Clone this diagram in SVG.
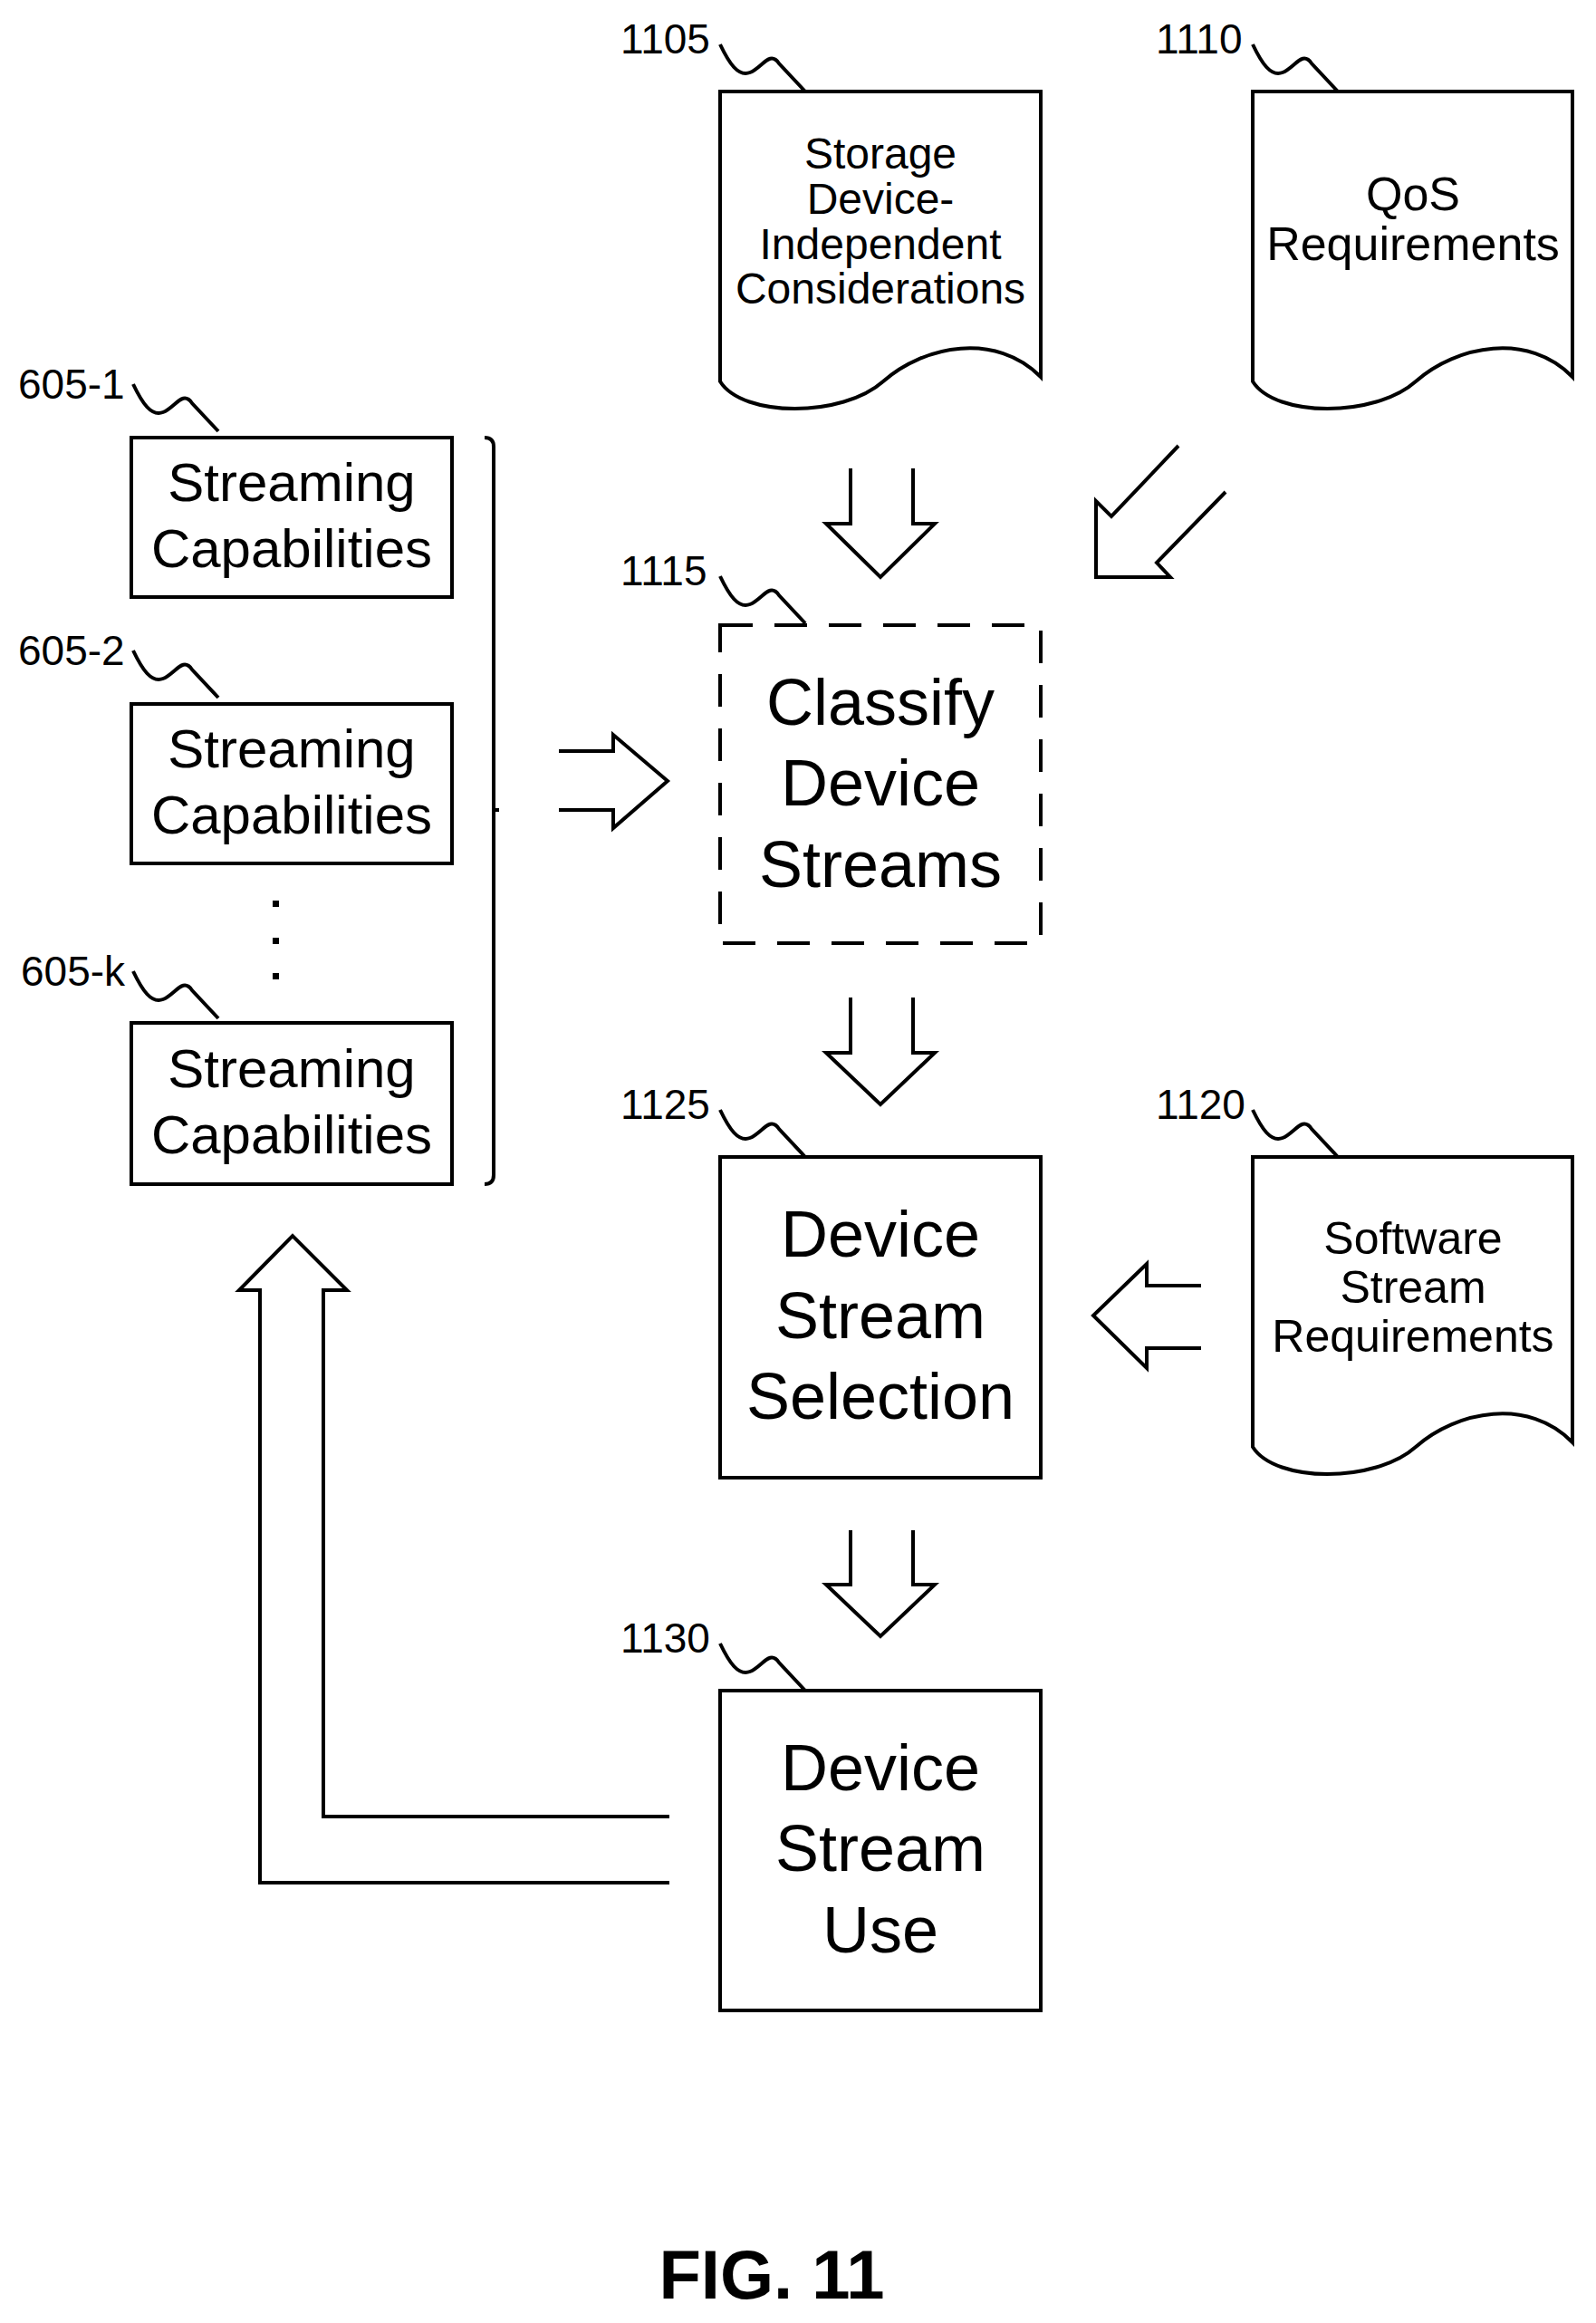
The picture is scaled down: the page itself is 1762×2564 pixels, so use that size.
<svg xmlns="http://www.w3.org/2000/svg" width="1762" height="2564" viewBox="0 0 1762 2564">
<style>
.s{fill:none;stroke:#000;stroke-width:4}
.b{fill:#fff;stroke:#000;stroke-width:4}
.d{fill:#fff;stroke:#000;stroke-width:4;stroke-dasharray:36 24}
.t{font-family:"Liberation Sans",Arial,sans-serif;fill:#000;text-anchor:middle}
.l{font-family:"Liberation Sans",Arial,sans-serif;fill:#000;font-size:46px}
</style>
<defs>
<path id="lead" class="s" d="M0,0 c10,21 20,36 33,31 s22,-25 32,-10 l29,31"/>
</defs>
<rect width="1762" height="2564" fill="#fff"/>
<g id="n1105">
<path class="b" d="M795,101 H1149 V416 C1100,366 1020,381 975,421 C930,461 820,461 795,421 Z"/>
<text class="t" font-size="48"><tspan x="972" y="186">Storage</tspan><tspan x="972" y="236">Device-</tspan><tspan x="972" y="286">Independent</tspan><tspan x="972" y="335">Considerations</tspan></text>
<text class="l" x="685" y="59">1105</text><use href="#lead" x="795" y="49"/>
</g>
<g id="n1110">
<path class="b" d="M1383,101 H1736 V416 C1688,366 1608,381 1563,421 C1518,461 1408,461 1383,421 Z"/>
<text class="t" font-size="52"><tspan x="1560" y="232">QoS</tspan><tspan x="1560" y="287">Requirements</tspan></text>
<text class="l" x="1276" y="59">1110</text><use href="#lead" x="1383" y="49"/>
</g>
<g id="n605-1">
<rect class="b" x="145" y="483" width="354" height="176"/>
<text class="t" font-size="60"><tspan x="322" y="553">Streaming</tspan><tspan x="322" y="626">Capabilities</tspan></text>
<text class="l" x="20" y="440">605-1</text><use href="#lead" x="147" y="424"/>
</g>
<g id="n605-2">
<rect class="b" x="145" y="777" width="354" height="176"/>
<text class="t" font-size="60"><tspan x="322" y="847">Streaming</tspan><tspan x="322" y="920">Capabilities</tspan></text>
<text class="l" x="20" y="734">605-2</text><use href="#lead" x="147" y="718"/>
</g>
<g id="dots"><rect x="301" y="994" width="7" height="7"/><rect x="301" y="1035" width="7" height="7"/><rect x="301" y="1074" width="7" height="7"/></g>
<g id="n605-k">
<rect class="b" x="145" y="1129" width="354" height="178"/>
<text class="t" font-size="60"><tspan x="322" y="1200">Streaming</tspan><tspan x="322" y="1273">Capabilities</tspan></text>
<text class="l" x="23" y="1088">605-k</text><use href="#lead" x="147" y="1072"/>
</g>
<g id="n1115">
<rect class="d" x="795" y="690" width="354" height="351"/>
<text class="t" font-size="72"><tspan x="972" y="800">Classify</tspan><tspan x="972" y="889">Device</tspan><tspan x="972" y="979">Streams</tspan></text>
<text class="l" x="685" y="646">1115</text><use href="#lead" x="795" y="636"/>
</g>
<g id="n1125">
<rect class="b" x="795" y="1277" width="354" height="354"/>
<text class="t" font-size="72"><tspan x="972" y="1387">Device</tspan><tspan x="972" y="1477">Stream</tspan><tspan x="972" y="1566">Selection</tspan></text>
<text class="l" x="685" y="1235">1125</text><use href="#lead" x="795" y="1225"/>
</g>
<g id="n1120">
<path class="b" d="M1383,1277 H1736 V1592 C1688,1542 1608,1557 1563,1597 C1518,1637 1408,1637 1383,1597 Z"/>
<text class="t" font-size="50"><tspan x="1560" y="1384">Software</tspan><tspan x="1560" y="1438">Stream</tspan><tspan x="1560" y="1492">Requirements</tspan></text>
<text class="l" x="1276" y="1235">1120</text><use href="#lead" x="1383" y="1225"/>
</g>
<g id="n1130">
<rect class="b" x="795" y="1866" width="354" height="353"/>
<text class="t" font-size="72"><tspan x="972" y="1976">Device</tspan><tspan x="972" y="2065">Stream</tspan><tspan x="972" y="2155">Use</tspan></text>
<text class="l" x="685" y="1824">1130</text><use href="#lead" x="795" y="1814"/>
</g>
<g id="connectors">
<path class="s" d="M535,483 Q545,483 545,493 V1297 Q545,1307 535,1307 M545,894 H551"/>
<path class="s" d="M939,517 V578 H912 L972,637 L1032,578 H1008 V517"/>
<path class="s" d="M1301,492 L1227,570 L1210,553 V637 H1292 L1277,621 L1353,543"/>
<path class="s" d="M617,829 H677 V811 L737,862 L677,914 V894 H617"/>
<path class="s" d="M939,1101 V1162 H912 L972,1219 L1032,1162 H1008 V1101"/>
<path class="s" d="M1326,1419 H1266 V1395 L1207,1452 L1266,1510 V1488 H1326"/>
<path class="s" d="M939,1689 V1749 H912 L972,1806 L1032,1749 H1008 V1689"/>
<path class="s" d="M739,2005 H357 V1424 H383 L323,1364 L264,1424 H287 V2078 H739"/>
</g>
<text class="t" x="852" y="2537" font-size="76" font-weight="bold">FIG. 11</text>
</svg>
